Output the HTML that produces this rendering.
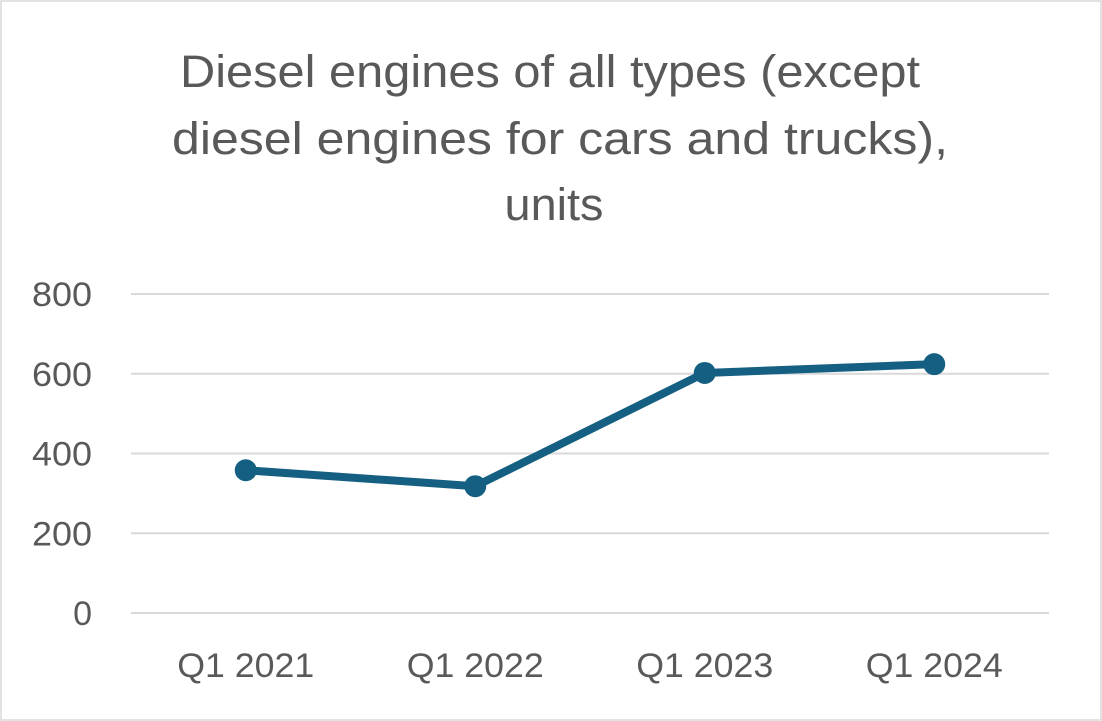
<!DOCTYPE html>
<html><head><meta charset="utf-8"><style>
html,body{margin:0;padding:0;background:#fff}
svg{display:block;font-family:"Liberation Sans",Arial,sans-serif}
</style></head><body>
<svg width="1102" height="721" viewBox="0 0 1102 721">
<rect x="1" y="1" width="1100" height="719" fill="#fff" stroke="#d9d9d9" stroke-width="1.5"/>
<g fill="#595959" font-size="45" text-anchor="middle">
<text x="550" y="87" textLength="740" lengthAdjust="spacingAndGlyphs">Diesel engines of all types (except</text>
<text x="560" y="154" textLength="776" lengthAdjust="spacingAndGlyphs">diesel engines for cars and trucks),</text>
<text x="554" y="220" textLength="99" lengthAdjust="spacingAndGlyphs">units</text>
</g>
<g id="grid"></g>
<g id="yticks"></g>
<g id="xticks"></g>
<g id="series"></g>
</svg>
<script>
const categories=["Q1 2021","Q1 2022","Q1 2023","Q1 2024"];
const values=[358,318,602,624];
const yTicks=[0,200,400,600,800];
const NS="http://www.w3.org/2000/svg";
const x0=131,x1=1049,y0=613,y1=294,yMax=800;
const bw=(x1-x0)/categories.length;
const xs=i=>x0+bw*(i+0.5);
const ys=v=>y0-(v/yMax)*(y0-y1);
function mk(t,a,p){const e=document.createElementNS(NS,t);for(const k in a)e.setAttribute(k,a[k]);p.appendChild(e);return e;}
const grid=document.getElementById('grid'),yt=document.getElementById('yticks'),xt=document.getElementById('xticks'),se=document.getElementById('series');
yTicks.forEach(v=>{
 const l=mk('line',{x1:x0,x2:x1,y1:ys(v),y2:ys(v),stroke:'#d9d9d9','stroke-width':2},grid);
 
 
 const s=String(v);
 const a={x:92,y:ys(v)+12,'text-anchor':'end','font-size':34,fill:'#595959'};
 if(s.length===3){a.textLength=60;a.lengthAdjust='spacingAndGlyphs';}
 const t=mk('text',a,yt);
 t.textContent=s;
 
 
});
categories.forEach((c,i)=>{
 const t=mk('text',{x:xs(i),y:677,'text-anchor':'middle','font-size':34,fill:'#595959',textLength:137,lengthAdjust:'spacingAndGlyphs'},xt);
 t.textContent=c;
 
 
});
const pl=mk('polyline',{points:values.map((v,i)=>xs(i)+','+ys(v)).join(' '),fill:'none',stroke:'#156082','stroke-width':8,'stroke-linejoin':'round','stroke-linecap':'round'},se);


values.forEach((v,i)=>{
 const c=mk('circle',{cx:xs(i),cy:ys(v),r:11,fill:'#156082'},se);
 
 
});
</script>
</body></html>
